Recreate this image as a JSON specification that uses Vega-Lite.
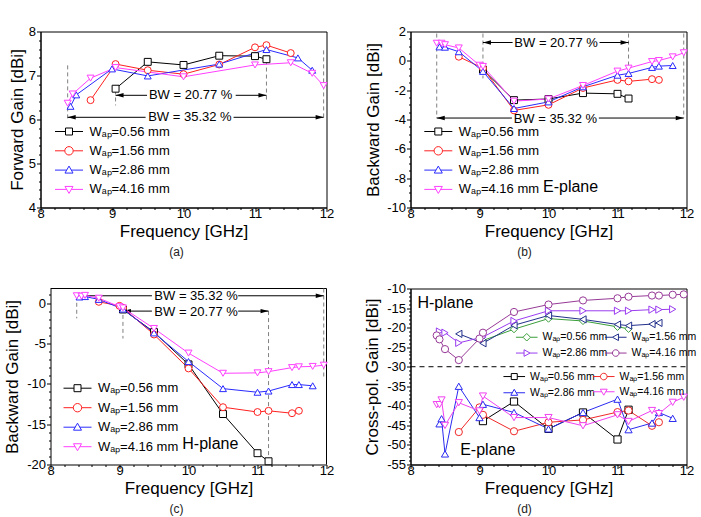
{
  "$schema": "https://vega.github.io/schema/vega-lite/v6.json",
  "background": "white",
  "padding": {"left": 3.5, "top": 24.5, "right": 0, "bottom": 0},
  "config": {
    "font": "Liberation Sans",
    "view": {"stroke": "black", "strokeWidth": 1},
    "axis": {
      "grid": false, "domainColor": "black", "tickColor": "black", "labelColor": "black", "titleColor": "black",
      "labelFontSize": 13, "titleFontSize": 17, "titleFontWeight": "normal", "labelFlush": false, "labelOverlap": false,
      "domainWidth": 1, "tickWidth": 1, "labelPadding": 1
    },
    "axisX": {"titlePadding": 3, "labelPadding": -4},
    "axisY": {"titleBaseline": "middle"},
    "title": {"fontSize": 12, "fontWeight": "normal", "color": "#222222", "orient": "bottom", "offset": 7, "frame": "group"},
    "legend": {"labelColor": "black", "padding": 0}
  },
  "datasets": {
    "fwd": [
      {"w": "0.56", "f": 9.05, "g": 6.70}, {"w": "0.56", "f": 9.5, "g": 7.31}, {"w": "0.56", "f": 10, "g": 7.24}, {"w": "0.56", "f": 10.5, "g": 7.45}, {"w": "0.56", "f": 11, "g": 7.44}, {"w": "0.56", "f": 11.16, "g": 7.37},
      {"w": "1.56", "f": 8.7, "g": 6.44}, {"w": "1.56", "f": 9.05, "g": 7.26}, {"w": "1.56", "f": 9.5, "g": 7.12}, {"w": "1.56", "f": 10, "g": 7.03}, {"w": "1.56", "f": 10.5, "g": 7.25}, {"w": "1.56", "f": 11, "g": 7.64}, {"w": "1.56", "f": 11.16, "g": 7.69}, {"w": "1.56", "f": 11.5, "g": 7.51},
      {"w": "2.86", "f": 8.42, "g": 6.30}, {"w": "2.86", "f": 8.5, "g": 6.56}, {"w": "2.86", "f": 9.0, "g": 7.15}, {"w": "2.86", "f": 9.5, "g": 6.99}, {"w": "2.86", "f": 10.5, "g": 7.26}, {"w": "2.86", "f": 11.16, "g": 7.59}, {"w": "2.86", "f": 11.6, "g": 7.40}, {"w": "2.86", "f": 11.8, "g": 7.12},
      {"w": "4.16", "f": 8.38, "g": 6.37}, {"w": "4.16", "f": 8.45, "g": 6.58}, {"w": "4.16", "f": 8.7, "g": 6.94}, {"w": "4.16", "f": 9.05, "g": 7.18}, {"w": "4.16", "f": 10, "g": 6.97}, {"w": "4.16", "f": 11, "g": 7.24}, {"w": "4.16", "f": 11.5, "g": 7.29}, {"w": "4.16", "f": 11.8, "g": 7.05}, {"w": "4.16", "f": 11.96, "g": 6.77}
    ],
    "bwdE": [
      {"w": "0.56", "f": 9.05, "g": -0.6}, {"w": "0.56", "f": 9.5, "g": -2.68}, {"w": "0.56", "f": 10, "g": -2.6}, {"w": "0.56", "f": 10.5, "g": -2.2}, {"w": "0.56", "f": 11, "g": -2.25}, {"w": "0.56", "f": 11.16, "g": -2.57},
      {"w": "1.56", "f": 8.7, "g": 0.28}, {"w": "1.56", "f": 9.05, "g": -0.5}, {"w": "1.56", "f": 9.5, "g": -3.38}, {"w": "1.56", "f": 10, "g": -3.0}, {"w": "1.56", "f": 10.5, "g": -1.85}, {"w": "1.56", "f": 11, "g": -1.3}, {"w": "1.56", "f": 11.16, "g": -1.4}, {"w": "1.56", "f": 11.5, "g": -1.25}, {"w": "1.56", "f": 11.6, "g": -1.3},
      {"w": "2.86", "f": 8.42, "g": 0.95}, {"w": "2.86", "f": 8.5, "g": 0.93}, {"w": "2.86", "f": 8.7, "g": 0.62}, {"w": "2.86", "f": 9.05, "g": -0.72}, {"w": "2.86", "f": 9.5, "g": -3.25}, {"w": "2.86", "f": 10, "g": -2.8}, {"w": "2.86", "f": 10.5, "g": -1.77}, {"w": "2.86", "f": 11, "g": -0.98}, {"w": "2.86", "f": 11.16, "g": -0.86}, {"w": "2.86", "f": 11.5, "g": -0.45}, {"w": "2.86", "f": 11.6, "g": -0.36}, {"w": "2.86", "f": 11.8, "g": -0.32},
      {"w": "4.16", "f": 8.38, "g": 1.2}, {"w": "4.16", "f": 8.45, "g": 1.2}, {"w": "4.16", "f": 8.5, "g": 1.1}, {"w": "4.16", "f": 8.7, "g": 0.88}, {"w": "4.16", "f": 9.0, "g": -0.3}, {"w": "4.16", "f": 9.05, "g": -0.38}, {"w": "4.16", "f": 9.5, "g": -2.75}, {"w": "4.16", "f": 10, "g": -2.6}, {"w": "4.16", "f": 10.5, "g": -1.68}, {"w": "4.16", "f": 11, "g": -0.7}, {"w": "4.16", "f": 11.16, "g": -0.5}, {"w": "4.16", "f": 11.5, "g": -0.05}, {"w": "4.16", "f": 11.6, "g": 0.02}, {"w": "4.16", "f": 11.8, "g": 0.27}, {"w": "4.16", "f": 11.96, "g": 0.55}
    ],
    "bwdH": [
      {"w": "0.56", "f": 9.05, "g": -0.8}, {"w": "0.56", "f": 9.5, "g": -3.6}, {"w": "0.56", "f": 10, "g": -7.6}, {"w": "0.56", "f": 10.5, "g": -13.75}, {"w": "0.56", "f": 11, "g": -18.6}, {"w": "0.56", "f": 11.16, "g": -19.6},
      {"w": "1.56", "f": 8.7, "g": 0.15}, {"w": "1.56", "f": 9.0, "g": -0.35}, {"w": "1.56", "f": 9.05, "g": -0.6}, {"w": "1.56", "f": 9.5, "g": -3.9}, {"w": "1.56", "f": 10, "g": -8.1}, {"w": "1.56", "f": 10.5, "g": -12.9}, {"w": "1.56", "f": 11, "g": -13.5}, {"w": "1.56", "f": 11.16, "g": -13.35}, {"w": "1.56", "f": 11.5, "g": -13.65}, {"w": "1.56", "f": 11.6, "g": -13.35},
      {"w": "2.86", "f": 8.42, "g": 0.75}, {"w": "2.86", "f": 8.5, "g": 0.8}, {"w": "2.86", "f": 8.7, "g": 0.45}, {"w": "2.86", "f": 9.05, "g": -0.75}, {"w": "2.86", "f": 9.5, "g": -3.7}, {"w": "2.86", "f": 10, "g": -7.25}, {"w": "2.86", "f": 10.5, "g": -10.6}, {"w": "2.86", "f": 11, "g": -11.05}, {"w": "2.86", "f": 11.16, "g": -10.9}, {"w": "2.86", "f": 11.5, "g": -10.1}, {"w": "2.86", "f": 11.6, "g": -10.1}, {"w": "2.86", "f": 11.8, "g": -10.25},
      {"w": "4.16", "f": 8.38, "g": 0.9}, {"w": "4.16", "f": 8.45, "g": 0.85}, {"w": "4.16", "f": 8.5, "g": 0.95}, {"w": "4.16", "f": 8.7, "g": 0.6}, {"w": "4.16", "f": 9.0, "g": -0.45}, {"w": "4.16", "f": 9.05, "g": -0.6}, {"w": "4.16", "f": 9.5, "g": -3.15}, {"w": "4.16", "f": 10, "g": -6.2}, {"w": "4.16", "f": 10.5, "g": -8.7}, {"w": "4.16", "f": 11, "g": -8.65}, {"w": "4.16", "f": 11.16, "g": -8.5}, {"w": "4.16", "f": 11.5, "g": -8.0}, {"w": "4.16", "f": 11.6, "g": -7.9}, {"w": "4.16", "f": 11.8, "g": -7.85}, {"w": "4.16", "f": 11.96, "g": -7.7}
    ],
    "xpol": [
      {"p": "H", "w": "0.56", "f": 9.05, "g": -23.3}, {"p": "H", "w": "0.56", "f": 9.5, "g": -20.4}, {"p": "H", "w": "0.56", "f": 10, "g": -17.7}, {"p": "H", "w": "0.56", "f": 10.5, "g": -18.3}, {"p": "H", "w": "0.56", "f": 11, "g": -19.8}, {"p": "H", "w": "0.56", "f": 11.16, "g": -20.3},
      {"p": "H", "w": "1.56", "f": 8.7, "g": -21.6}, {"p": "H", "w": "1.56", "f": 9.05, "g": -24.0}, {"p": "H", "w": "1.56", "f": 9.5, "g": -19.4}, {"p": "H", "w": "1.56", "f": 10, "g": -16.9}, {"p": "H", "w": "1.56", "f": 10.5, "g": -17.9}, {"p": "H", "w": "1.56", "f": 11, "g": -19.2}, {"p": "H", "w": "1.56", "f": 11.16, "g": -19.5}, {"p": "H", "w": "1.56", "f": 11.5, "g": -19.1}, {"p": "H", "w": "1.56", "f": 11.6, "g": -18.8},
      {"p": "H", "w": "2.86", "f": 8.42, "g": -21.0}, {"p": "H", "w": "2.86", "f": 8.5, "g": -21.3}, {"p": "H", "w": "2.86", "f": 8.7, "g": -23.9}, {"p": "H", "w": "2.86", "f": 9.05, "g": -22.4}, {"p": "H", "w": "2.86", "f": 9.5, "g": -18.3}, {"p": "H", "w": "2.86", "f": 10, "g": -15.7}, {"p": "H", "w": "2.86", "f": 10.5, "g": -15.7}, {"p": "H", "w": "2.86", "f": 11, "g": -15.7}, {"p": "H", "w": "2.86", "f": 11.16, "g": -15.7}, {"p": "H", "w": "2.86", "f": 11.5, "g": -15.4}, {"p": "H", "w": "2.86", "f": 11.6, "g": -15.4}, {"p": "H", "w": "2.86", "f": 11.8, "g": -15.3},
      {"p": "H", "w": "4.16", "f": 8.38, "g": -22.0}, {"p": "H", "w": "4.16", "f": 8.42, "g": -23.0}, {"p": "H", "w": "4.16", "f": 8.5, "g": -25.5}, {"p": "H", "w": "4.16", "f": 8.7, "g": -28.3}, {"p": "H", "w": "4.16", "f": 9.0, "g": -22.8}, {"p": "H", "w": "4.16", "f": 9.05, "g": -21.3}, {"p": "H", "w": "4.16", "f": 9.5, "g": -16.0}, {"p": "H", "w": "4.16", "f": 10, "g": -14.1}, {"p": "H", "w": "4.16", "f": 10.5, "g": -13.05}, {"p": "H", "w": "4.16", "f": 11, "g": -12.5}, {"p": "H", "w": "4.16", "f": 11.16, "g": -12.1}, {"p": "H", "w": "4.16", "f": 11.5, "g": -11.8}, {"p": "H", "w": "4.16", "f": 11.6, "g": -11.8}, {"p": "H", "w": "4.16", "f": 11.8, "g": -11.6}, {"p": "H", "w": "4.16", "f": 11.96, "g": -11.5},
      {"p": "E", "w": "0.56", "f": 9.05, "g": -43.9}, {"p": "E", "w": "0.56", "f": 9.5, "g": -38.9}, {"p": "E", "w": "0.56", "f": 10, "g": -45.9}, {"p": "E", "w": "0.56", "f": 10.5, "g": -41.7}, {"p": "E", "w": "0.56", "f": 11, "g": -48.6}, {"p": "E", "w": "0.56", "f": 11.16, "g": -41.0},
      {"p": "E", "w": "1.56", "f": 8.7, "g": -46.7}, {"p": "E", "w": "1.56", "f": 9.0, "g": -40.4}, {"p": "E", "w": "1.56", "f": 9.05, "g": -42.3}, {"p": "E", "w": "1.56", "f": 9.5, "g": -46.5}, {"p": "E", "w": "1.56", "f": 10, "g": -44.2}, {"p": "E", "w": "1.56", "f": 10.5, "g": -43.6}, {"p": "E", "w": "1.56", "f": 11, "g": -41.6}, {"p": "E", "w": "1.56", "f": 11.16, "g": -41.2}, {"p": "E", "w": "1.56", "f": 11.5, "g": -45.1}, {"p": "E", "w": "1.56", "f": 11.6, "g": -44.2},
      {"p": "E", "w": "2.86", "f": 8.42, "g": -44.6}, {"p": "E", "w": "2.86", "f": 8.45, "g": -43.3}, {"p": "E", "w": "2.86", "f": 8.5, "g": -52.3}, {"p": "E", "w": "2.86", "f": 8.7, "g": -35.0}, {"p": "E", "w": "2.86", "f": 9.0, "g": -43.0}, {"p": "E", "w": "2.86", "f": 9.05, "g": -39.6}, {"p": "E", "w": "2.86", "f": 9.5, "g": -41.7}, {"p": "E", "w": "2.86", "f": 10, "g": -45.9}, {"p": "E", "w": "2.86", "f": 10.5, "g": -41.7}, {"p": "E", "w": "2.86", "f": 11, "g": -38.3}, {"p": "E", "w": "2.86", "f": 11.16, "g": -46.1}, {"p": "E", "w": "2.86", "f": 11.5, "g": -44.4}, {"p": "E", "w": "2.86", "f": 11.6, "g": -41.7}, {"p": "E", "w": "2.86", "f": 11.8, "g": -43.2},
      {"p": "E", "w": "4.16", "f": 8.38, "g": -39.7}, {"p": "E", "w": "4.16", "f": 8.42, "g": -39.7}, {"p": "E", "w": "4.16", "f": 8.45, "g": -38.5}, {"p": "E", "w": "4.16", "f": 8.5, "g": -45.0}, {"p": "E", "w": "4.16", "f": 8.7, "g": -39.2}, {"p": "E", "w": "4.16", "f": 9.0, "g": -41.3}, {"p": "E", "w": "4.16", "f": 9.05, "g": -37.5}, {"p": "E", "w": "4.16", "f": 9.5, "g": -43.0}, {"p": "E", "w": "4.16", "f": 10, "g": -43.0}, {"p": "E", "w": "4.16", "f": 10.5, "g": -45.1}, {"p": "E", "w": "4.16", "f": 11, "g": -42.3}, {"p": "E", "w": "4.16", "f": 11.16, "g": -44.0}, {"p": "E", "w": "4.16", "f": 11.5, "g": -41.2}, {"p": "E", "w": "4.16", "f": 11.6, "g": -42.0}, {"p": "E", "w": "4.16", "f": 11.8, "g": -39.1}, {"p": "E", "w": "4.16", "f": 11.96, "g": -37.8}
    ]
  },
  "columns": 2,
  "bounds": "flush",
  "spacing": {"row": 81, "column": 84},
  "resolve": {"scale": {"color": "independent", "shape": "independent"}},
  "concat": [
    {
      "width": 286, "height": 176,
      "title": {"text": "(a)", "dx": -7},
      "resolve": {"scale": {"color": "independent", "shape": "independent"}},
      "encoding": {
        "x": {"field": "f", "type": "quantitative", "scale": {"domain": [8, 12], "nice": false, "zero": false},
          "axis": {"title": "Frequency [GHz]", "values": [8,8.2,8.4,8.6,8.8,9,9.2,9.4,9.6,9.8,10,10.2,10.4,10.6,10.8,11,11.2,11.4,11.6,11.8,12],
            "labelExpr": "datum.value % 1 === 0 ? '' + datum.value : ''",
            "tickSize": {"condition": {"test": "datum.value % 1 === 0", "value": 4}, "value": 2}}},
        "y": {"field": "g", "type": "quantitative", "scale": {"domain": [4, 8], "nice": false, "zero": false},
          "axis": {"title": "Forward Gain [dBi]", "titleX": -23, "values": [4,4.2,4.4,4.6,4.8,5,5.2,5.4,5.6,5.8,6,6.2,6.4,6.6,6.8,7,7.2,7.4,7.6,7.8,8],
            "labelExpr": "datum.value % 1 === 0 ? '' + datum.value : ''",
            "tickSize": {"condition": {"test": "datum.value % 1 === 0", "value": 4}, "value": 2}}}
      },
      "layer": [
        {"data": {"values": [{"f": 8.38, "g": 7.23, "g2": 6.02}, {"f": 9.05, "g": 6.66, "g2": 6.32}, {"f": 11.16, "g": 7.34, "g2": 6.4}, {"f": 11.96, "g": 7.57, "g2": 5.98}]},
          "mark": {"type": "rule", "strokeDash": [4, 3], "color": "#808080", "strokeWidth": 1},
          "encoding": {"y2": {"field": "g2"}}},
        {"data": {"values": [{"f": 9.05, "f2": 9.49, "g": 6.55}, {"f": 10.73, "f2": 11.16, "g": 6.55}, {"f": 8.38, "f2": 9.47, "g": 6.05}, {"f": 10.7, "f2": 11.96, "g": 6.05}]},
          "mark": {"type": "rule", "color": "black", "strokeWidth": 1},
          "encoding": {"x2": {"field": "f2"}}},
        {"data": {"values": [{"f": 9.05, "g": 6.55, "dir": "L"}, {"f": 11.16, "g": 6.55, "dir": "R"}, {"f": 8.38, "g": 6.05, "dir": "L"}, {"f": 11.96, "g": 6.05, "dir": "R"}]},
          "mark": {"type": "point", "filled": true, "color": "black", "size": 64, "opacity": 1, "strokeWidth": 0},
          "encoding": {"shape": {"field": "dir", "type": "nominal", "scale": {"domain": ["L", "R"], "range": ["M0,0L2,-0.55L2,0.55Z", "M0,0L-2,-0.55L-2,0.55Z"]}, "legend": null}}},
        {"data": {"values": [{"f": 10.1, "g": 6.55, "t": "BW = 20.77 %"}, {"f": 10.09, "g": 6.05, "t": "BW = 35.32 %"}]},
          "mark": {"type": "text", "fontSize": 13, "color": "black", "align": "center", "baseline": "middle"},
          "encoding": {"text": {"field": "t"}}},
        {"data": {"name": "fwd"},
          "mark": {"type": "line", "strokeWidth": 1},
          "encoding": {"color": {"field": "w", "type": "nominal", "scale": {"domain": ["0.56", "1.56", "2.86", "4.16"], "range": ["#000000", "#ff2020", "#2a2aff", "#ff40ff"]}, "legend": null}}},
        {"data": {"name": "fwd"},
          "mark": {"type": "point", "filled": false, "fill": "white", "size": 48, "strokeWidth": 1, "opacity": 1},
          "encoding": {
            "color": {"field": "w", "type": "nominal", "scale": {"domain": ["0.56", "1.56", "2.86", "4.16"], "range": ["#000000", "#ff2020", "#2a2aff", "#ff40ff"]}, "legend": null},
            "shape": {"field": "w", "type": "nominal", "scale": {"domain": ["0.56", "1.56", "2.86", "4.16"], "range": ["square", "circle", "triangle-up", "triangle-down"]}, "legend": null}}},
        {"data": {"name": "fwd"},
          "transform": [{"filter": "false"}],
          "mark": {"type": "point", "filled": false, "fill": "white", "strokeWidth": 1, "opacity": 1},
          "encoding": {
            "color": {"field": "w", "type": "nominal", "scale": {"domain": ["0.56", "1.56", "2.86", "4.16"], "range": ["#000000", "#ff2020", "#2a2aff", "#ff40ff"]},
              "legend": {"title": null, "orient": "none", "legendX": 22, "legendY": 93.5, "symbolSize": 49, "symbolStrokeWidth": 1, "labelFontSize": 13, "labelOffset": 14, "rowPadding": 5.3, "labelExpr": "'Wₐₚ=' + datum.label + ' mm'"}},
            "shape": {"field": "w", "type": "nominal", "scale": {"domain": ["0.56", "1.56", "2.86", "4.16"], "range": ["M-4,0H-1M1,0H4M-1,-1H1V1H-1Z", "M-4,0H-1.2M1.2,0H4M-1.2,0A1.2,1.2,0,1,0,1.2,0A1.2,1.2,0,1,0,-1.2,0Z", "M-4,0H-0.66M0.66,0H4M0,-1.15L1.15,0.85H-1.15Z", "M-4,0H-0.66M0.66,0H4M0,1.15L1.15,-0.85H-1.15Z"]},
              "legend": {"title": null, "orient": "none", "legendX": 22, "legendY": 93.5, "symbolSize": 49, "symbolStrokeWidth": 1, "labelFontSize": 13, "labelOffset": 14, "rowPadding": 5.3, "labelExpr": "'Wₐₚ=' + datum.label + ' mm'"}}}}
      ]
    },
    {
      "width": 276, "height": 176,
      "title": {"text": "(b)", "dx": -24},
      "resolve": {"scale": {"color": "independent", "shape": "independent"}},
      "encoding": {
        "x": {"field": "f", "type": "quantitative", "scale": {"domain": [8, 12], "nice": false, "zero": false},
          "axis": {"title": "Frequency [GHz]", "values": [8,8.2,8.4,8.6,8.8,9,9.2,9.4,9.6,9.8,10,10.2,10.4,10.6,10.8,11,11.2,11.4,11.6,11.8,12],
            "labelExpr": "datum.value % 1 === 0 ? '' + datum.value : ''",
            "tickSize": {"condition": {"test": "datum.value % 1 === 0", "value": 4}, "value": 2}}},
        "y": {"field": "g", "type": "quantitative", "scale": {"domain": [-10, 2], "nice": false, "zero": false},
          "axis": {"title": "Backward Gain [dBi]", "titleX": -37, "values": [-10,-9.5,-9,-8.5,-8,-7.5,-7,-6.5,-6,-5.5,-5,-4.5,-4,-3.5,-3,-2.5,-2,-1.5,-1,-0.5,0,0.5,1,1.5,2],
            "labelExpr": "datum.value % 2 === 0 ? '' + datum.value : ''",
            "tickSize": {"condition": {"test": "datum.value % 2 === 0", "value": 4}, "value": 2}}}
      },
      "layer": [
        {"data": {"values": [{"f": 8.38, "g": 1.86, "g2": -3.9}, {"f": 9.05, "g": 1.86, "g2": -1.2}, {"f": 11.16, "g": 1.86, "g2": -1.0}, {"f": 11.96, "g": 1.86, "g2": -3.9}]},
          "mark": {"type": "rule", "strokeDash": [4, 3], "color": "#808080", "strokeWidth": 1},
          "encoding": {"y2": {"field": "g2"}}},
        {"data": {"values": [{"f": 9.05, "f2": 9.48, "g": 1.25}, {"f": 10.74, "f2": 11.16, "g": 1.25}, {"f": 8.38, "f2": 9.47, "g": -3.9}, {"f": 10.73, "f2": 11.96, "g": -3.9}]},
          "mark": {"type": "rule", "color": "black", "strokeWidth": 1},
          "encoding": {"x2": {"field": "f2"}}},
        {"data": {"values": [{"f": 9.05, "g": 1.25, "dir": "L"}, {"f": 11.16, "g": 1.25, "dir": "R"}, {"f": 8.38, "g": -3.9, "dir": "L"}, {"f": 11.96, "g": -3.9, "dir": "R"}]},
          "mark": {"type": "point", "filled": true, "color": "black", "size": 64, "opacity": 1, "strokeWidth": 0},
          "encoding": {"shape": {"field": "dir", "type": "nominal", "scale": {"domain": ["L", "R"], "range": ["M0,0L2,-0.55L2,0.55Z", "M0,0L-2,-0.55L-2,0.55Z"]}, "legend": null}}},
        {"data": {"values": [{"f": 10.11, "g": 1.25, "t": "BW = 20.77 %"}, {"f": 10.1, "g": -3.95, "t": "BW = 35.32 %"}]},
          "mark": {"type": "text", "fontSize": 13, "color": "black", "align": "center", "baseline": "middle"},
          "encoding": {"text": {"field": "t"}}},
        {"data": {"values": [{"f": 9.92, "g": -8.6, "t": "E-plane"}]},
          "mark": {"type": "text", "fontSize": 16, "color": "black", "align": "left", "baseline": "middle"},
          "encoding": {"text": {"field": "t"}}},
        {"data": {"name": "bwdE"},
          "mark": {"type": "line", "strokeWidth": 1},
          "encoding": {"color": {"field": "w", "type": "nominal", "scale": {"domain": ["0.56", "1.56", "2.86", "4.16"], "range": ["#000000", "#ff2020", "#2a2aff", "#ff40ff"]}, "legend": null}}},
        {"data": {"name": "bwdE"},
          "mark": {"type": "point", "filled": false, "fill": "white", "size": 48, "strokeWidth": 1, "opacity": 1},
          "encoding": {
            "color": {"field": "w", "type": "nominal", "scale": {"domain": ["0.56", "1.56", "2.86", "4.16"], "range": ["#000000", "#ff2020", "#2a2aff", "#ff40ff"]}, "legend": null},
            "shape": {"field": "w", "type": "nominal", "scale": {"domain": ["0.56", "1.56", "2.86", "4.16"], "range": ["square", "circle", "triangle-up", "triangle-down"]}, "legend": null}}},
        {"data": {"name": "bwdE"},
          "transform": [{"filter": "false"}],
          "mark": {"type": "point", "filled": false, "fill": "white", "strokeWidth": 1, "opacity": 1},
          "encoding": {
            "color": {"field": "w", "type": "nominal", "scale": {"domain": ["0.56", "1.56", "2.86", "4.16"], "range": ["#000000", "#ff2020", "#2a2aff", "#ff40ff"]},
              "legend": {"title": null, "orient": "none", "legendX": 21.3, "legendY": 93.5, "symbolSize": 49, "symbolStrokeWidth": 1, "labelFontSize": 13, "labelOffset": 14, "rowPadding": 5.3, "labelExpr": "'Wₐₚ=' + datum.label + ' mm'"}},
            "shape": {"field": "w", "type": "nominal", "scale": {"domain": ["0.56", "1.56", "2.86", "4.16"], "range": ["M-4,0H-1M1,0H4M-1,-1H1V1H-1Z", "M-4,0H-1.2M1.2,0H4M-1.2,0A1.2,1.2,0,1,0,1.2,0A1.2,1.2,0,1,0,-1.2,0Z", "M-4,0H-0.66M0.66,0H4M0,-1.15L1.15,0.85H-1.15Z", "M-4,0H-0.66M0.66,0H4M0,1.15L1.15,-0.85H-1.15Z"]},
              "legend": {"title": null, "orient": "none", "legendX": 21.3, "legendY": 93.5, "symbolSize": 49, "symbolStrokeWidth": 1, "labelFontSize": 13, "labelOffset": 14, "rowPadding": 5.3, "labelExpr": "'Wₐₚ=' + datum.label + ' mm'"}}}}
      ]
    },
    {
      "width": 286, "height": 176,
      "view": {"stroke": null},
      "title": {"text": "(c)", "dx": -7},
      "resolve": {"scale": {"color": "independent", "shape": "independent"}},
      "encoding": {
        "x": {"field": "f", "type": "quantitative", "scale": {"domain": [8, 12], "range": [10, 286], "nice": false, "zero": false},
          "axis": {"title": "Frequency [GHz]", "values": [8,8.2,8.4,8.6,8.8,9,9.2,9.4,9.6,9.8,10,10.2,10.4,10.6,10.8,11,11.2,11.4,11.6,11.8,12],
            "labelExpr": "datum.value % 1 === 0 ? '' + datum.value : ''",
            "tickSize": {"condition": {"test": "datum.value % 1 === 0", "value": 4}, "value": 2}}},
        "y": {"field": "g", "type": "quantitative", "scale": {"domain": [-20, 1.8], "nice": false, "zero": false},
          "axis": {"title": "Backward Gain [dBi]", "offset": -10, "titleX": -38, "values": [-20,-19,-18,-17,-16,-15,-14,-13,-12,-11,-10,-9,-8,-7,-6,-5,-4,-3,-2,-1,0,1],
            "labelExpr": "datum.value % 5 === 0 ? '' + datum.value : ''",
            "tickSize": {"condition": {"test": "datum.value % 5 === 0", "value": 4}, "value": 2}}}
      },
      "layer": [
        {"data": {"values": [{"f": 8, "f2": 12, "g": 1.8}]},
          "mark": {"type": "rule", "color": "black", "strokeWidth": 1},
          "encoding": {"x2": {"field": "f2"}}},
        {"data": {"values": [{"f": 12, "g": -20, "g2": 1.8}]},
          "mark": {"type": "rule", "color": "black", "strokeWidth": 1},
          "encoding": {"y2": {"field": "g2"}}},
        {"data": {"values": [{"f": 8.38, "g": 0.9, "g2": -1.9}, {"f": 9.05, "g": -0.6, "g2": -4.4}, {"f": 11.16, "g": -1.0, "g2": -20}, {"f": 11.96, "g": 1.8, "g2": -9.3}]},
          "mark": {"type": "rule", "strokeDash": [4, 3], "color": "#808080", "strokeWidth": 1},
          "encoding": {"y2": {"field": "g2"}}},
        {"data": {"values": [{"f": 8.38, "f2": 9.47, "g": 0.9}, {"f": 10.72, "f2": 11.96, "g": 0.9}, {"f": 9.05, "f2": 9.47, "g": -1.0}, {"f": 10.72, "f2": 11.16, "g": -1.0}]},
          "mark": {"type": "rule", "color": "black", "strokeWidth": 1},
          "encoding": {"x2": {"field": "f2"}}},
        {"data": {"values": [{"f": 8.38, "g": 0.9, "dir": "L"}, {"f": 11.96, "g": 0.9, "dir": "R"}, {"f": 9.05, "g": -1.0, "dir": "L"}, {"f": 11.16, "g": -1.0, "dir": "R"}]},
          "mark": {"type": "point", "filled": true, "color": "black", "size": 64, "opacity": 1, "strokeWidth": 0},
          "encoding": {"shape": {"field": "dir", "type": "nominal", "scale": {"domain": ["L", "R"], "range": ["M0,0L2,-0.55L2,0.55Z", "M0,0L-2,-0.55L-2,0.55Z"]}, "legend": null}}},
        {"data": {"values": [{"f": 10.11, "g": 0.9, "t": "BW = 35.32 %"}, {"f": 10.11, "g": -1.05, "t": "BW = 20.77 %"}]},
          "mark": {"type": "text", "fontSize": 13, "color": "black", "align": "center", "baseline": "middle"},
          "encoding": {"text": {"field": "t"}}},
        {"data": {"values": [{"f": 9.91, "g": -17.4, "t": "H-plane"}]},
          "mark": {"type": "text", "fontSize": 16, "color": "black", "align": "left", "baseline": "middle"},
          "encoding": {"text": {"field": "t"}}},
        {"data": {"name": "bwdH"},
          "mark": {"type": "line", "strokeWidth": 1},
          "encoding": {"color": {"field": "w", "type": "nominal", "scale": {"domain": ["0.56", "1.56", "2.86", "4.16"], "range": ["#000000", "#ff2020", "#2a2aff", "#ff40ff"]}, "legend": null}}},
        {"data": {"name": "bwdH"},
          "mark": {"type": "point", "filled": false, "fill": "white", "size": 48, "strokeWidth": 1, "opacity": 1},
          "encoding": {
            "color": {"field": "w", "type": "nominal", "scale": {"domain": ["0.56", "1.56", "2.86", "4.16"], "range": ["#000000", "#ff2020", "#2a2aff", "#ff40ff"]}, "legend": null},
            "shape": {"field": "w", "type": "nominal", "scale": {"domain": ["0.56", "1.56", "2.86", "4.16"], "range": ["square", "circle", "triangle-up", "triangle-down"]}, "legend": null}}},
        {"data": {"name": "bwdH"},
          "transform": [{"filter": "false"}],
          "mark": {"type": "point", "filled": false, "fill": "white", "strokeWidth": 1, "opacity": 1},
          "encoding": {
            "color": {"field": "w", "type": "nominal", "scale": {"domain": ["0.56", "1.56", "2.86", "4.16"], "range": ["#000000", "#ff2020", "#2a2aff", "#ff40ff"]},
              "legend": {"title": null, "orient": "none", "legendX": 30.5, "legendY": 93.2, "symbolSize": 49, "symbolStrokeWidth": 1, "labelFontSize": 13, "labelOffset": 14, "rowPadding": 5.5, "labelExpr": "'Wₐₚ=' + datum.label + ' mm'"}},
            "shape": {"field": "w", "type": "nominal", "scale": {"domain": ["0.56", "1.56", "2.86", "4.16"], "range": ["M-4,0H-1M1,0H4M-1,-1H1V1H-1Z", "M-4,0H-1.2M1.2,0H4M-1.2,0A1.2,1.2,0,1,0,1.2,0A1.2,1.2,0,1,0,-1.2,0Z", "M-4,0H-0.66M0.66,0H4M0,-1.15L1.15,0.85H-1.15Z", "M-4,0H-0.66M0.66,0H4M0,1.15L1.15,-0.85H-1.15Z"]},
              "legend": {"title": null, "orient": "none", "legendX": 30.5, "legendY": 93.2, "symbolSize": 49, "symbolStrokeWidth": 1, "labelFontSize": 13, "labelOffset": 14, "rowPadding": 5.5, "labelExpr": "'Wₐₚ=' + datum.label + ' mm'"}}}}
      ]
    },
    {
      "width": 276, "height": 176,
      "title": {"text": "(d)", "dx": -24},
      "resolve": {"scale": {"color": "independent", "shape": "independent"}},
      "encoding": {
        "x": {"field": "f", "type": "quantitative", "scale": {"domain": [8, 12], "nice": false, "zero": false},
          "axis": {"title": "Frequency [GHz]", "values": [8,8.2,8.4,8.6,8.8,9,9.2,9.4,9.6,9.8,10,10.2,10.4,10.6,10.8,11,11.2,11.4,11.6,11.8,12],
            "labelExpr": "datum.value % 1 === 0 ? '' + datum.value : ''",
            "tickSize": {"condition": {"test": "datum.value % 1 === 0", "value": 4}, "value": 2}}},
        "y": {"field": "g", "type": "quantitative", "scale": {"domain": [-55, -10], "nice": false, "zero": false},
          "axis": {"title": "Cross-pol. Gain [dBi]", "titleX": -38.3, "values": [-55,-54,-53,-52,-51,-50,-49,-48,-47,-46,-45,-44,-43,-42,-41,-40,-39,-38,-37,-36,-35,-34,-33,-32,-31,-30,-29,-28,-27,-26,-25,-24,-23,-22,-21,-20,-19,-18,-17,-16,-15,-14,-13,-12,-11,-10],
            "labelExpr": "datum.value % 5 === 0 ? '' + datum.value : ''",
            "tickSize": {"condition": {"test": "datum.value % 5 === 0", "value": 4}, "value": 2}}}
      },
      "layer": [
        {"data": {"values": [{"f": 8, "f2": 12, "g": -30}]},
          "mark": {"type": "rule", "strokeDash": [5, 4], "color": "black", "strokeWidth": 1},
          "encoding": {"x2": {"field": "f2"}}},
        {"data": {"values": [{"f": 8.1, "g": -13.7, "t": "H-plane"}, {"f": 8.72, "g": -51.4, "t": "E-plane"}]},
          "mark": {"type": "text", "fontSize": 16, "color": "black", "align": "left", "baseline": "middle"},
          "encoding": {"text": {"field": "t"}}},
        {"data": {"name": "xpol"},
          "transform": [{"filter": "datum.p === 'H'"}],
          "mark": {"type": "line", "strokeWidth": 1},
          "encoding": {"color": {"field": "w", "type": "nominal", "scale": {"domain": ["0.56", "1.56", "2.86", "4.16"], "range": ["#3a9e3a", "#22308c", "#9a3cf0", "#973a97"]}, "legend": null}}},
        {"data": {"name": "xpol"},
          "transform": [{"filter": "datum.p === 'E'"}],
          "mark": {"type": "line", "strokeWidth": 1},
          "encoding": {"color": {"field": "w", "type": "nominal", "scale": {"domain": ["0.56", "1.56", "2.86", "4.16"], "range": ["#000000", "#f02828", "#2a2af0", "#f040f0"]}, "legend": null}}},
        {"data": {"name": "xpol"},
          "transform": [{"filter": "datum.p === 'H'"}],
          "mark": {"type": "point", "filled": false, "fill": "white", "size": 52, "strokeWidth": 1, "opacity": 1},
          "encoding": {
            "color": {"field": "w", "type": "nominal", "scale": {"domain": ["0.56", "1.56", "2.86", "4.16"], "range": ["#3a9e3a", "#22308c", "#9a3cf0", "#973a97"]}, "legend": null},
            "shape": {"field": "w", "type": "nominal", "scale": {"domain": ["0.56", "1.56", "2.86", "4.16"], "range": ["diamond", "triangle-left", "triangle-right", "circle"]}, "legend": null}}},
        {"data": {"name": "xpol"},
          "transform": [{"filter": "datum.p === 'E'"}],
          "mark": {"type": "point", "filled": false, "fill": "white", "size": 52, "strokeWidth": 1, "opacity": 1},
          "encoding": {
            "color": {"field": "w", "type": "nominal", "scale": {"domain": ["0.56", "1.56", "2.86", "4.16"], "range": ["#000000", "#f02828", "#2a2af0", "#f040f0"]}, "legend": null},
            "shape": {"field": "w", "type": "nominal", "scale": {"domain": ["0.56", "1.56", "2.86", "4.16"], "range": ["square", "circle", "triangle-up", "triangle-down"]}, "legend": null}}},
        {"data": {"name": "xpol"},
          "transform": [{"filter": "false"}],
          "mark": {"type": "point", "filled": false, "fill": "white", "strokeWidth": 1, "opacity": 1},
          "encoding": {
            "color": {"field": "w", "type": "nominal", "scale": {"domain": ["0.56", "2.86"], "range": ["#3a9e3a", "#9a3cf0"]},
              "legend": {"title": null, "orient": "none", "legendX": 111, "legendY": 43.5, "symbolSize": 36, "symbolStrokeWidth": 1, "labelFontSize": 10.5, "labelOffset": 10.5, "rowPadding": 3.8, "labelExpr": "'Wₐₚ=' + datum.label + ' mm'"}},
            "shape": {"field": "w", "type": "nominal", "scale": {"domain": ["0.56", "2.86"], "range": ["M-3.6,0H-1.25M1.25,0H3.6M0,-1.25L1.25,0L0,1.25L-1.25,0Z", "M-3.6,0H-0.9M1.1,0H3.6M1.1,0L-0.9,-1.1V1.1Z"]},
              "legend": {"title": null, "orient": "none", "legendX": 111, "legendY": 43.5, "symbolSize": 36, "symbolStrokeWidth": 1, "labelFontSize": 10.5, "labelOffset": 10.5, "rowPadding": 3.8, "labelExpr": "'Wₐₚ=' + datum.label + ' mm'"}}}},
        {"data": {"name": "xpol"},
          "transform": [{"filter": "false"}],
          "mark": {"type": "point", "filled": false, "fill": "white", "strokeWidth": 1, "opacity": 1},
          "encoding": {
            "color": {"field": "w", "type": "nominal", "scale": {"domain": ["1.56", "4.16"], "range": ["#22308c", "#973a97"]},
              "legend": {"title": null, "orient": "none", "legendX": 200, "legendY": 43.5, "symbolSize": 36, "symbolStrokeWidth": 1, "labelFontSize": 10.5, "labelOffset": 10.5, "rowPadding": 3.8, "labelExpr": "'Wₐₚ=' + datum.label + ' mm'"}},
            "shape": {"field": "w", "type": "nominal", "scale": {"domain": ["1.56", "4.16"], "range": ["M-3.6,0H-1.1M0.9,0H3.6M-1.1,0L0.9,-1.1V1.1Z", "M-3.6,0H-1.1M1.1,0H3.6M-1.1,0A1.1,1.1,0,1,0,1.1,0A1.1,1.1,0,1,0,-1.1,0Z"]},
              "legend": {"title": null, "orient": "none", "legendX": 200, "legendY": 43.5, "symbolSize": 36, "symbolStrokeWidth": 1, "labelFontSize": 10.5, "labelOffset": 10.5, "rowPadding": 3.8, "labelExpr": "'Wₐₚ=' + datum.label + ' mm'"}}}},
        {"data": {"name": "xpol"},
          "transform": [{"filter": "false"}],
          "mark": {"type": "point", "filled": false, "fill": "white", "strokeWidth": 1, "opacity": 1},
          "encoding": {
            "color": {"field": "w", "type": "nominal", "scale": {"domain": ["0.56", "2.86"], "range": ["#000000", "#2a2af0"]},
              "legend": {"title": null, "orient": "none", "legendX": 98.5, "legendY": 82.8, "symbolSize": 36, "symbolStrokeWidth": 1, "labelFontSize": 10.5, "labelOffset": 10.5, "rowPadding": 4.2, "labelExpr": "'Wₐₚ=' + datum.label + ' mm'"}},
            "shape": {"field": "w", "type": "nominal", "scale": {"domain": ["0.56", "2.86"], "range": ["M-3.6,0H-1M1,0H3.6M-1,-1H1V1H-1Z", "M-3.6,0H-0.66M0.66,0H3.6M0,-1.15L1.15,0.85H-1.15Z"]},
              "legend": {"title": null, "orient": "none", "legendX": 98.5, "legendY": 82.8, "symbolSize": 36, "symbolStrokeWidth": 1, "labelFontSize": 10.5, "labelOffset": 10.5, "rowPadding": 4.2, "labelExpr": "'Wₐₚ=' + datum.label + ' mm'"}}}},
        {"data": {"name": "xpol"},
          "transform": [{"filter": "false"}],
          "mark": {"type": "point", "filled": false, "fill": "white", "strokeWidth": 1, "opacity": 1},
          "encoding": {
            "color": {"field": "w", "type": "nominal", "scale": {"domain": ["1.56", "4.16"], "range": ["#f02828", "#f040f0"]},
              "legend": {"title": null, "orient": "none", "legendX": 188, "legendY": 82.8, "symbolSize": 36, "symbolStrokeWidth": 1, "labelFontSize": 10.5, "labelOffset": 10.5, "rowPadding": 4.2, "labelExpr": "'Wₐₚ=' + datum.label + ' mm'"}},
            "shape": {"field": "w", "type": "nominal", "scale": {"domain": ["1.56", "4.16"], "range": ["M-3.6,0H-1.1M1.1,0H3.6M-1.1,0A1.1,1.1,0,1,0,1.1,0A1.1,1.1,0,1,0,-1.1,0Z", "M-3.6,0H-0.66M0.66,0H3.6M0,1.15L1.15,-0.85H-1.15Z"]},
              "legend": {"title": null, "orient": "none", "legendX": 188, "legendY": 82.8, "symbolSize": 36, "symbolStrokeWidth": 1, "labelFontSize": 10.5, "labelOffset": 10.5, "rowPadding": 4.2, "labelExpr": "'Wₐₚ=' + datum.label + ' mm'"}}}}
      ]
    }
  ]
}
